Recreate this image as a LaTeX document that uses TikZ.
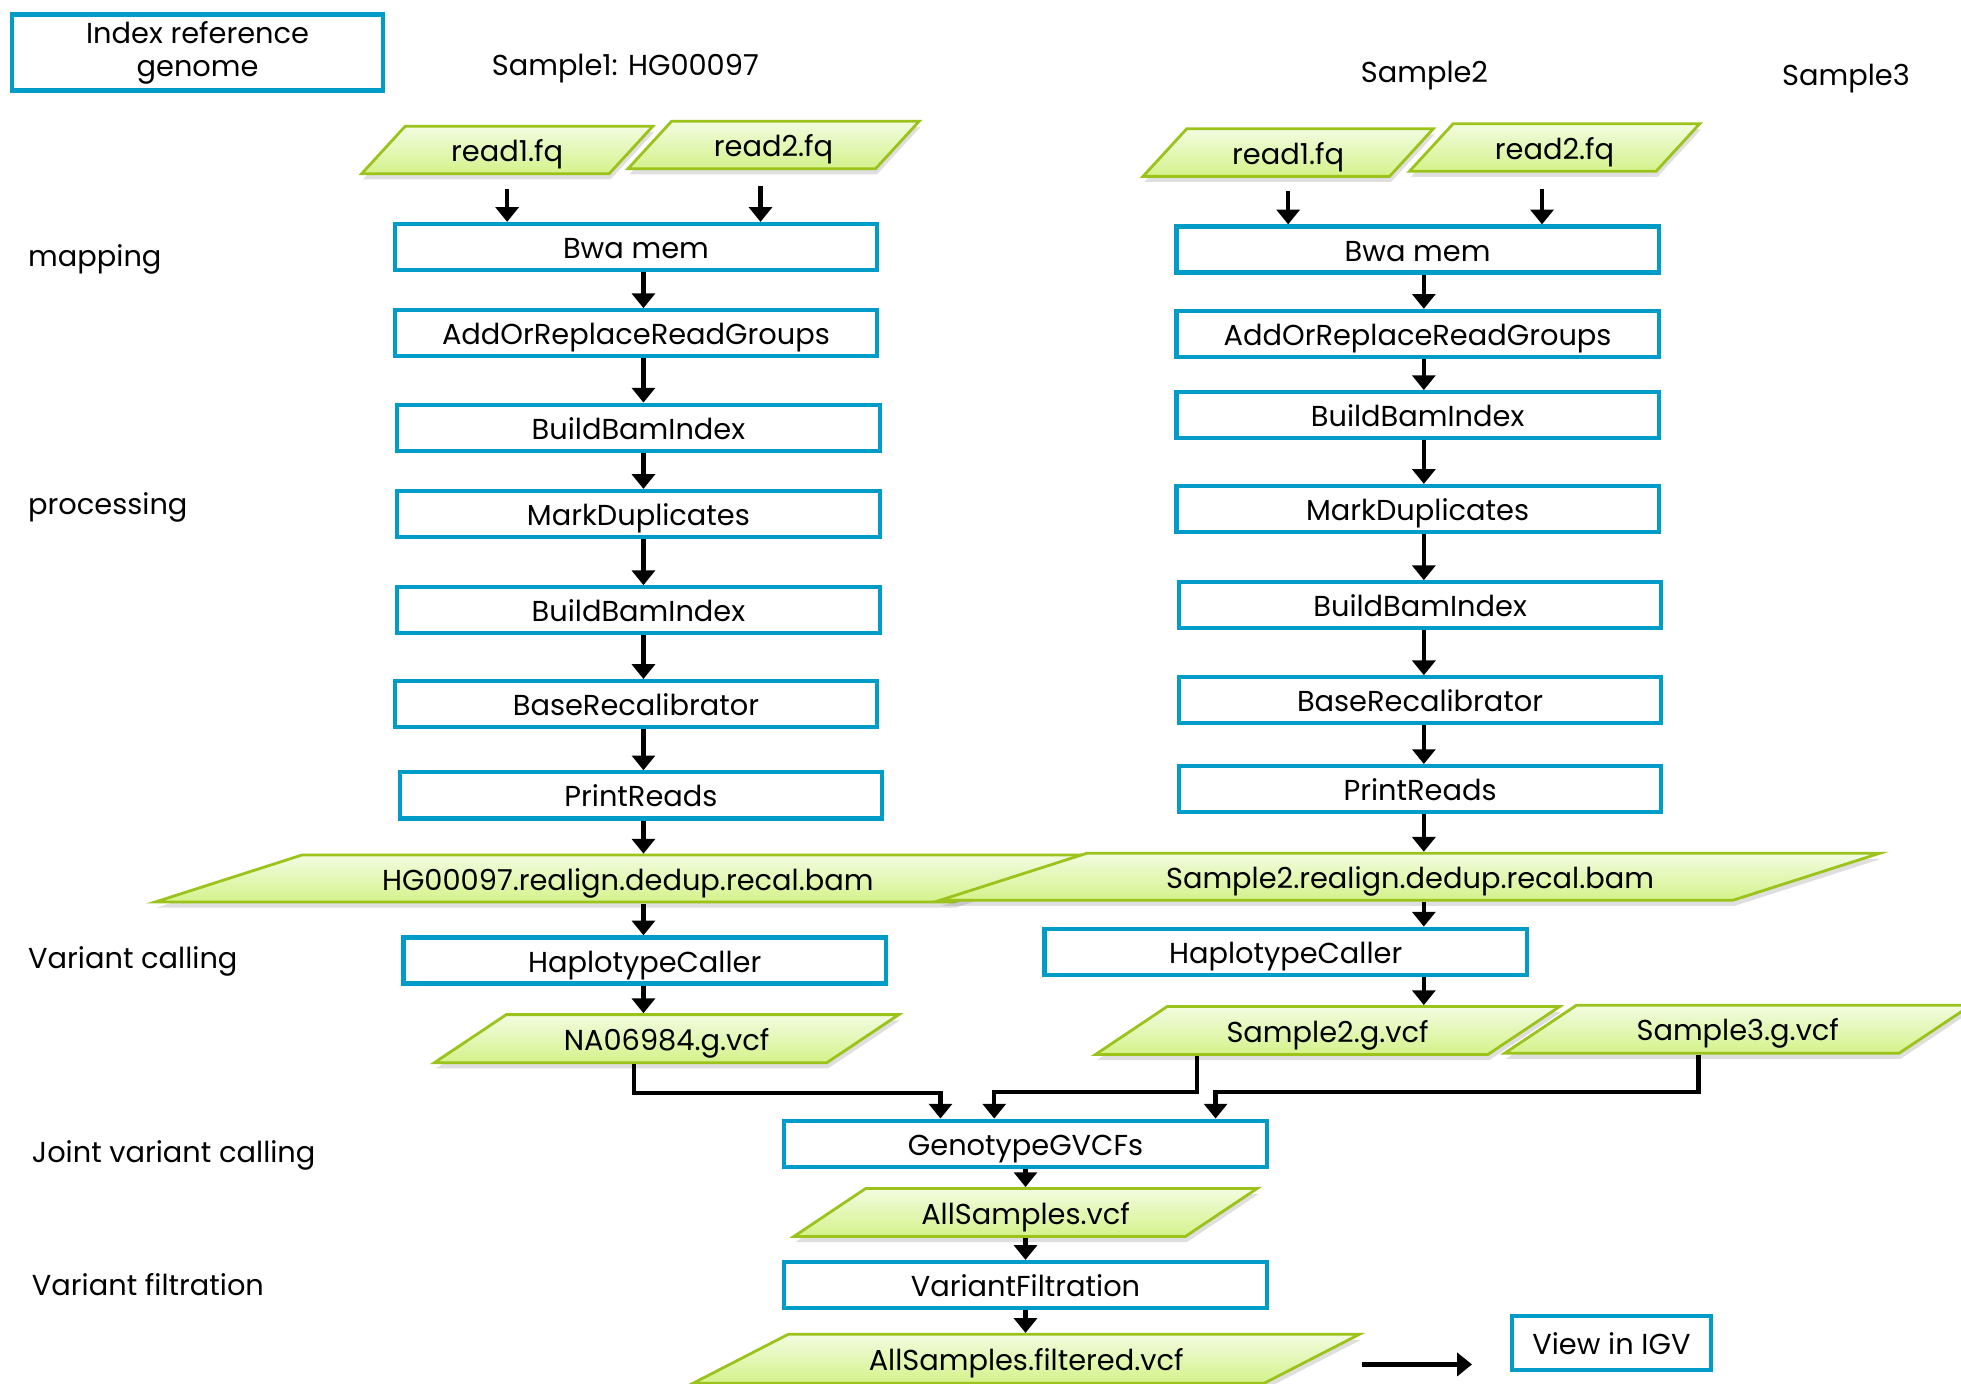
\documentclass[tikz,border=0pt]{standalone}
\usepackage{fontspec}
\setmainfont{Poppins}
\usepackage{tikz}
\usetikzlibrary{shapes.geometric, arrows.meta, positioning, calc, shadows}
\usepackage{xcolor}
\definecolor{boxblue}{HTML}{009CC8}
\definecolor{filegreen}{HTML}{9BC31C}
\definecolor{filetop}{HTML}{F3FCE1}
\definecolor{filebot}{HTML}{D4F28A}
\newcommand{\diagfont}{\fontsize{8.2}{9.8}\selectfont}

\tikzset{
  tool/.style={draw=boxblue, line width=1.2pt, fill=white, inner sep=0pt,
    minimum width=4.82cm, minimum height=0.46cm, font=\diagfont,
    text height=1.55ex, text depth=0.35ex},
  datafile/.style={trapezium, trapezium stretches body, draw=filegreen, line width=0.8pt,
    top color=filetop, bottom color=filebot, inner sep=0pt, font=\diagfont,
    text height=1.55ex, text depth=0.35ex,
    drop shadow={opacity=0.25, shadow xshift=0.4pt, shadow yshift=-1.6pt}},
  lean/.style 2 args={trapezium left angle=#1, trapezium right angle=#2},
  stage/.style={anchor=west, inner sep=0pt, font=\diagfont, text height=1.55ex, text depth=0.35ex},
  flow/.style={-{Triangle[width=6.5pt,length=4.2pt]}, line width=1.25pt}
}

\begin{document}
\begin{tikzpicture}[x=0.0125cm, y=-0.0125cm]
  \useasboundingbox (0,0) rectangle (1568,1106);

  \node[tool, minimum width=3.71cm, minimum height=0.76cm, align=center, text height=, text depth=] (idx) at (158,42)
    {Index reference\\[-0.5pt]genome};
  \node[stage, anchor=center] (s1) at (500,51) {Sample1: HG00097};
  \node[stage, anchor=center] (s2) at (1139,57) {Sample2};
  \node[stage, anchor=center] (s3) at (1476,59) {Sample3};

  \node[stage] (lmap) at (22,204) {mapping};
  \node[stage] (lproc) at (22,402) {processing};
  \node[stage] (lcall) at (22,765) {Variant calling};
  \node[stage] (ljoint) at (25,920) {Joint variant calling};
  \node[stage] (lfilt) at (25,1027) {Variant filtration};

  \coordinate (col1) at (514.5,0);
  \coordinate (col2) at (1138.5,0);
  \coordinate (col3) at (820,0);

  % sample 1
  \node[datafile, lean={40}{140}, minimum width=2.91cm, minimum height=0.475cm] (r1a) at (405.5,120) {read1.fq};
  \node[datafile, lean={40}{140}, minimum width=2.91cm, minimum height=0.475cm] (r2a) at (618.5,116) {read2.fq};
  \node[tool] (bwa1) at (508.5,197.5) {Bwa mem};
  \node[tool] (arg1) at (508.5,266.5) {AddOrReplaceReadGroups};
  \node[tool] (bbi1) at (510.5,342) {BuildBamIndex};
  \node[tool] (md1) at (510.5,411) {MarkDuplicates};
  \node[tool] (bbi1b) at (510.5,488) {BuildBamIndex};
  \node[tool] (br1) at (508.5,563) {BaseRecalibrator};
  \node[tool] (pr1) at (512.5,636) {PrintReads};
  \node[datafile, lean={14}{166}, minimum width=9.45cm, minimum height=0.47cm] (bam1) at (502,702.5) {HG00097.realign.dedup.recal.bam};
  \node[tool] (hc1) at (515.5,768) {HaplotypeCaller};
  \node[datafile, lean={27}{153}, minimum width=4.64cm, minimum height=0.48cm] (gv1) at (533,830.5) {NA06984.g.vcf};

  % sample 2
  \node[datafile, lean={40}{140}, minimum width=2.9cm, minimum height=0.475cm] (r1b) at (1030,122) {read1.fq};
  \node[datafile, lean={40}{140}, minimum width=2.9cm, minimum height=0.475cm] (r2b) at (1243,118) {read2.fq};
  \node[tool] (bwa2) at (1133.5,199.5) {Bwa mem};
  \node[tool] (arg2) at (1133.5,267) {AddOrReplaceReadGroups};
  \node[tool] (bbi2) at (1133.5,332) {BuildBamIndex};
  \node[tool] (md2) at (1133.5,407) {MarkDuplicates};
  \node[tool] (bbi2b) at (1135.5,484) {BuildBamIndex};
  \node[tool] (br2) at (1135.5,560) {BaseRecalibrator};
  \node[tool] (pr2) at (1135.5,631) {PrintReads};
  \node[datafile, lean={14}{166}, minimum width=9.39cm, minimum height=0.47cm] (bam2) at (1127.5,701) {Sample2.realign.dedup.recal.bam};
  \node[tool] (hc2) at (1028,761) {HaplotypeCaller};
  \node[datafile, lean={27}{153}, minimum width=4.64cm, minimum height=0.48cm] (gv2) at (1061.5,824) {Sample2.g.vcf};

  % sample 3
  \node[datafile, lean={27}{153}, minimum width=4.66cm, minimum height=0.48cm] (gv3) at (1389.5,823) {Sample3.g.vcf};

  % joint part
  \node[tool] (ggv) at (820,914.5) {GenotypeGVCFs};
  \node[datafile, lean={27}{153}, minimum width=4.63cm, minimum height=0.48cm] (allv) at (820,969.5) {AllSamples.vcf};
  \node[tool] (vf) at (820,1027.5) {VariantFiltration};
  \node[datafile, lean={21}{159}, minimum width=6.66cm, minimum height=0.49cm] (filt) at (820.5,1086.5) {AllSamples.filtered.vcf};
  \node[tool, minimum width=1.99cm, minimum height=0.54cm] (igv) at (1288.5,1074) {View in IGV};

  \draw[flow, shorten <=0.14cm] (r1a.south) -- (r1a.south |- bwa1.north);
  \draw[flow, shorten <=0.16cm] ([xshift=-0.13cm]r2a.south) -- ([xshift=-0.13cm]r2a.south |- bwa1.north);
  \draw[flow, shorten <=0.13cm] (r1b.south) -- (r1b.south |- bwa2.north);
  \draw[flow, shorten <=0.16cm] ([xshift=-0.125cm]r2b.south) -- ([xshift=-0.125cm]r2b.south |- bwa2.north);

  \foreach \a/\b in {bwa1/arg1, arg1/bbi1, bbi1/md1, md1/bbi1b, bbi1b/br1, br1/pr1, pr1/bam1, bam1/hc1, hc1/gv1}
    \draw[flow] (\a.south -| col1) -- (\b.north -| col1);
  \foreach \a/\b in {bwa2/arg2, arg2/bbi2, bbi2/md2, md2/bbi2b, bbi2b/br2, br2/pr2, pr2/bam2, bam2/hc2, hc2/gv2}
    \draw[flow] (\a.south -| col2) -- (\b.north -| col2);
  \foreach \a/\b in {ggv/allv, allv/vf, vf/filt}
    \draw[flow] (\a.south -| col3) -- (\b.north -| col3);

  \draw[flow] ($(gv1.south)+(-26,0)$) -- ++(0,23) -| ($(ggv.north)+(-68,0)$);
  \draw[flow] ($(gv2.south)+(-104.5,0)$) -- ++(0,29) -| ($(ggv.north)+(-25,0)$);
  \draw[flow] ($(gv3.south)+(-31.5,0)$) -- ++(0,30) -| ($(ggv.north)+(152,0)$);

  \coordinate (toigv) at (1177,1091);
  \draw[flow, shorten <=0.47cm] (filt.east |- toigv) -- (toigv);
\end{tikzpicture}
\end{document}
